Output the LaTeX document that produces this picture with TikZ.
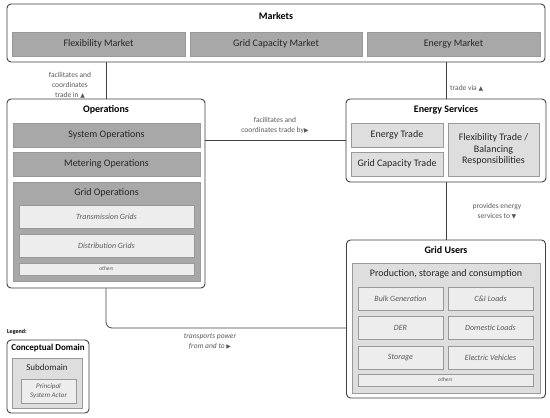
\documentclass[tikz,border=0pt]{standalone}
\usepackage{fontspec}
\setmainfont{Carlito}
\newfontfamily\symfont{DejaVu Sans}
\usetikzlibrary{positioning, calc}
\newcommand{\up}{{\symfont\fontsize{6}{6}\selectfont\char"25B2}}
\newcommand{\rt}{{\symfont\fontsize{6}{6}\selectfont\char"25B6}}
\newcommand{\dn}{{\symfont\fontsize{6}{6}\selectfont\char"25BC}}

\begin{document}
\begin{tikzpicture}[
    x=1pt, y=-1pt,
    dombox/.style={rectangle, draw=black!75, line width=0.9pt, rounded corners=4pt, fill=white, inner sep=0pt},
    subdark/.style={rectangle, draw=black!40, line width=0.6pt, fill=black!34, text=black!85, font=\fontsize{10}{11}\selectfont, inner sep=0pt},
    sublight/.style={rectangle, draw=black!40, line width=0.6pt, fill=black!13, text=black!85, font=\fontsize{10}{11.5}\selectfont, inner sep=0pt, align=center},
    actor/.style={rectangle, draw=black!40, line width=0.6pt, fill=black!7, text=black!65, font=\itshape\fontsize{8}{9}\selectfont, inner sep=0pt, align=center},
    boxtitle/.style={font=\bfseries\fontsize{10}{11}\selectfont, inner sep=0pt},
    subtitle/.style={font=\fontsize{10}{11}\selectfont, text=black!85, inner sep=0pt},
    conn/.style={draw=black!75, line width=0.8pt},
    lbl/.style={font=\fontsize{7.5}{10}\selectfont, text=black!65, align=center, inner sep=0pt}
]
    \useasboundingbox (0,0) rectangle (550,418);

    % markets
    \node[dombox, minimum width=538pt, minimum height=58pt] (mkt) at (276,33) {};
    \node[boxtitle] (mkt-t) at (276,16) {Markets};
    \node[subdark, minimum width=173pt, minimum height=24pt] (flexm) at (98.5,44) {Flexibility Market};
    \node[subdark, minimum width=172pt, minimum height=24pt] (gridm) at (276,44) {Grid Capacity Market};
    \node[subdark, minimum width=173pt, minimum height=24pt] (enm) at (453.5,44) {Energy Market};

    % operations
    \node[dombox, minimum width=198pt, minimum height=189pt] (ops) at (106,193.5) {};
    \node[boxtitle] (ops-t) at (106,110) {Operations};
    \node[subdark, minimum width=187pt, minimum height=24pt] (sysops) at (106.5,135) {System Operations};
    \node[subdark, minimum width=187pt, minimum height=24pt] (metops) at (106.5,164) {Metering Operations};
    \node[subdark, minimum width=187pt, minimum height=99pt] (gridops) at (106.5,231.5) {};
    \node[subtitle] (gridops-t) at (106.5,193) {Grid Operations};
    \node[actor, minimum width=175pt, minimum height=23pt] (trans) at (106.5,217) {Transmission Grids};
    \node[actor, minimum width=175pt, minimum height=23pt] (dist) at (106.5,246) {Distribution Grids};
    \node[actor, minimum width=175pt, minimum height=12pt, font=\itshape\fontsize{5.5}{6}\selectfont] (ops-oth) at (106.5,269) {others};

    % energy services
    \node[dombox, minimum width=200pt, minimum height=83pt] (es) at (446,140.5) {};
    \node[boxtitle] (es-t) at (446,110) {Energy Services};
    \node[sublight, minimum width=92pt, minimum height=24pt] (entr) at (397,135) {Energy Trade};
    \node[sublight, minimum width=92pt, minimum height=24pt] (gctr) at (397,164) {Grid Capacity Trade};
    \node[sublight, minimum width=91pt, minimum height=53pt] (fltr) at (493.5,149.5) {Flexibility Trade /\\Balancing\\Responsibilities};

    % grid users
    \node[dombox, minimum width=199pt, minimum height=158pt] (gu) at (446,319) {};
    \node[boxtitle] (gu-t) at (446,250) {Grid Users};
    \node[sublight, minimum width=188pt, minimum height=130pt] (prod) at (446,328) {};
    \node[subtitle] (prod-t) at (446,274) {Production, storage and consumption};
    \node[actor, minimum width=85pt, minimum height=23pt] (bulk) at (400.5,298.5) {Bulk Generation};
    \node[actor, minimum width=85pt, minimum height=23pt] (ci) at (490.5,298.5) {C\&I Loads};
    \node[actor, minimum width=85pt, minimum height=23pt] (der) at (400.5,328) {DER};
    \node[actor, minimum width=85pt, minimum height=23pt] (dom) at (490.5,328) {Domestic Loads};
    \node[actor, minimum width=85pt, minimum height=23pt] (stor) at (400.5,357.5) {Storage};
    \node[actor, minimum width=85pt, minimum height=23pt] (ev) at (490.5,357.5) {Electric Vehicles};
    \node[actor, minimum width=175pt, minimum height=12pt, font=\itshape\fontsize{5.5}{6}\selectfont] (gu-oth) at (445.5,380) {others};

    % legend
    \node[font=\bfseries\fontsize{6}{7}\selectfont, anchor=west, inner sep=0pt] (leg) at (7,332) {Legend:};
    \node[dombox, minimum width=82pt, minimum height=73pt] (legdom) at (48,376.5) {};
    \node[boxtitle, font=\bfseries\fontsize{9}{10}\selectfont] (legdom-t) at (48,348.5) {Conceptual Domain};
    \node[sublight, minimum width=70pt, minimum height=50pt] (legsub) at (47,383) {};
    \node[subtitle, font=\fontsize{9}{10}\selectfont] (legsub-t) at (47,367) {Subdomain};
    \node[actor, minimum width=55pt, minimum height=24pt, font=\itshape\fontsize{7}{8.5}\selectfont] (legact) at (48.5,391) {Principal\\System Actor};

    % connectors
    \draw[conn] (ops.north |- mkt.south) -- (ops.north);
    \draw[conn] (es.north |- mkt.south) -- (es.north);
    \draw[conn] (ops.east |- es.west) -- (es.west);
    \draw[conn] (es.south) -- (gu.north);
    \draw[conn, rounded corners=6pt] (ops.south) |- (gu.west |- der);

    % connector labels
    \node[lbl] (l-fac) at (70,85) {facilitates and\\coordinates\\trade in \up};
    \node[lbl, anchor=west] (l-via) at (450,88) {trade via \up};
    \node[lbl] (l-by) at (275,125.5) {facilitates and\\coordinates trade by\rt};
    \node[lbl] (l-prov) at (497,211) {provides energy\\services to \dn};
    \node[lbl, font=\itshape\fontsize{7.5}{10}\selectfont] (l-trans) at (210,342) {transports power\\from and to \rt};
\end{tikzpicture}
\end{document}
